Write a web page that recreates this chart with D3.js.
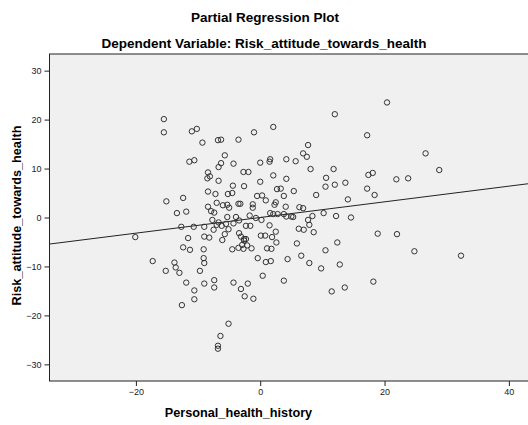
<!DOCTYPE html>
<html>
<head>
<meta charset="utf-8">
<script src="https://cdn.jsdelivr.net/npm/d3@7"></script>
<style>
  body { margin: 0; background: #fff; }
  svg text { font-family: Arial, "Liberation Sans", sans-serif; }
</style>
</head>
<body>
<div id="chart"></div>
<script>
// residuals of Personal_health_history (x) and Risk_attitude_towards_health (y)
var residX = [
  -15.5, -15.5, -11.0, -10.2, -9.3, -6.8, -6.3, -3.5, -5.7, -11.4,
  -10.6, -6.3, -6.7, -4.3, -8.4, -8.1, -8.5, -6.7, -4.4, -8.4,
  -7.2, -5.2, -4.5, -15.1, -12.4, -8.4, -7.0, -6.0, -5.3, -5.0,
  -3.5, -13.4, -11.9, -7.9, -7.4, -7.7, -5.3, -3.9, -12.7, -10.7,
  -9.0, -7.0, -6.7, -7.5, -6.2, -5.1, -4.3, -5.5, -20.1, -11.6,
  -9.0, -8.2, -5.7, -6.1, -3.4, -12.4, -11.3, -9.1, -4.5, -3.5,
  -17.3, -13.8, -13.6, -13.0, -15.2, -9.1, -9.0, -9.7, -11.9, -9.0,
  -7.4, -7.4, -4.3, -3.1, -10.6, -10.6, -12.6, -5.1, -6.4, -6.8,
  -6.8, 12.0, 2.1, -1.0, 17.2, 7.7, 6.9, 7.5, 0.0, 1.5,
  1.6, 4.2, 5.7, 8.1, 11.8, -2.7, -1.9, 2.1, 4.2, 0.0,
  10.6, 10.5, 12.0, 13.7, 17.4, 17.2, -2.6, 2.7, 3.3, 5.4,
  -0.5, 0.3, 3.8, 9.0, 14.1, 0.9, 2.5, 2.3, -3.2, -1.2,
  -1.2, 4.1, 6.3, 6.9, 1.6, 2.1, 2.8, 3.8, 4.2, 5.0,
  5.3, 7.7, 7.9, 8.4, 10.2, 12.2, 14.6, 6.2, 7.0, 8.6,
  -3.4, -1.7, -0.7, 0.2, -2.3, -1.6, 1.5, 2.5, 1.9, 0.1,
  0.8, 2.6, -3.1, -2.6, -2.6, -2.3, -2.9, -2.1, -2.7, -1.4,
  1.1, 1.8, 5.9, 12.4, 10.5, -0.4, 0.9, 1.7, 4.4, 6.6,
  7.9, 9.8, 12.8, 0.4, 3.8, -2.0, -2.5, -1.1, 11.5, 13.6,
  20.4, 26.6, 28.8, 18.1, 21.9, 23.8, 18.4, 18.9, 22.0, 24.8,
  32.3, 18.2
];
var residY = [
  20.1, 17.4, 17.6, 18.1, 15.3, 15.8, 15.9, 15.9, 12.7, 11.4,
  11.7, 11.1, 10.3, 11.0, 9.2, 8.4, 8.0, 7.5, 6.5, 5.3,
  4.8, 4.8, 5.0, 3.3, 4.0, 2.2, 3.0, 2.5, 2.6, 2.0,
  2.8, 0.9, 1.2, 1.3, 1.0, -0.5, 0.1, 0.1, -1.9, -1.9,
  -1.9, -1.5, -1.0, -2.5, -1.7, -2.4, -1.2, -1.3, -4.0, -4.2,
  -3.9, -4.1, -3.4, -4.6, -3.2, -6.1, -6.6, -6.5, -6.5, -6.2,
  -8.9, -9.2, -10.2, -11.3, -10.9, -8.3, -9.3, -10.9, -13.3, -13.5,
  -12.8, -14.3, -13.3, -14.6, -14.9, -16.7, -17.9, -21.7, -24.2, -26.2,
  -26.8, 21.1, 18.5, 17.4, 16.8, 14.8, 13.1, 12.4, 11.2, 11.4,
  11.9, 11.9, 11.5, 9.9, 9.9, 9.3, 9.3, 8.6, 7.9, 7.3,
  8.1, 6.3, 6.7, 7.1, 8.7, 5.9, 6.4, 5.8, 5.9, 5.4,
  4.4, 4.5, 4.4, 4.6, 3.7, 3.5, 3.1, 2.6, 2.8, 2.7,
  2.0, 2.2, 2.1, 1.9, 0.9, 0.7, 0.7, 0.7, 0.2, 0.2,
  0.1, -0.5, -1.5, 0.3, 0.9, 0.3, 0.0, -2.3, -2.5, -3.0,
  -0.6, 0.4, -0.1, -0.5, -1.7, -1.7, -1.6, -2.9, -4.0, -3.7,
  -3.7, -5.1, -3.9, -4.4, -4.7, -4.4, -5.6, -5.7, -6.4, -6.3,
  -6.3, -6.4, -5.3, -5.1, -6.7, -8.3, -9.1, -8.9, -8.5, -7.8,
  -9.3, -10.4, -9.6, -11.9, -12.9, -13.5, -16.1, -16.6, -15.1, -14.3,
  23.5, 13.1, 9.7, 9.1, 7.8, 8.0, 4.6, -3.3, -3.4, -6.9,
  -7.8, -13.1
];
var xTicks = [-20, 0, 20, 40];
var yTicks = [-30, -20, -10, 0, 10, 20, 30];
var fitSlope = 0.16, fitIntercept = 0;

var width = 528, height = 425;
var margin = {top: 54, right: -2, bottom: 44, left: 49.5};
var plotW = width - margin.left - margin.right,
    plotH = height - margin.top - margin.bottom;

var x = d3.scaleLinear().domain([-33.9, 43.4]).range([0, plotW]);
var y = d3.scaleLinear().domain([-33.4, 33.4]).range([plotH, 0]);

var svg = d3.select("#chart").append("svg")
  .attr("width", width)
  .attr("height", height);

svg.append("text")
  .attr("x", 265).attr("y", 22)
  .attr("text-anchor", "middle")
  .style("font-size", "13.5px").style("font-weight", "bold")
  .text("Partial Regression Plot");

svg.append("text")
  .attr("x", 264).attr("y", 48)
  .attr("text-anchor", "middle")
  .style("font-size", "13.5px").style("font-weight", "bold")
  .text("Dependent Variable: Risk_attitude_towards_health");

var g = svg.append("g")
  .attr("transform", "translate(" + margin.left + "," + margin.top + ")");

g.append("rect")
  .attr("width", plotW).attr("height", plotH)
  .attr("fill", "#f0f0f0")
  .attr("stroke", "#222").attr("stroke-width", 1);

var xAxis = d3.axisBottom(x).tickValues(xTicks).tickSize(5).tickFormat(d3.format("d"));
var yAxis = d3.axisLeft(y).tickValues(yTicks).tickSize(5).tickFormat(d3.format("d"));

g.append("g")
  .attr("transform", "translate(0," + plotH + ")")
  .call(xAxis)
  .call(function(s) { s.select(".domain").remove(); });

g.append("g")
  .call(yAxis)
  .call(function(s) { s.select(".domain").remove(); });

g.selectAll(".tick line").attr("stroke", "#222");
g.selectAll(".tick text")
  .attr("fill", "#222")
  .style("font-size", "9px")
  .style("font-family", "Arial, 'Liberation Sans', sans-serif");

g.append("clipPath").attr("id", "clip")
  .append("rect").attr("width", plotW).attr("height", plotH);

var xd = x.domain();
g.append("line")
  .attr("clip-path", "url(#clip)")
  .attr("x1", x(xd[0])).attr("y1", y(fitIntercept + fitSlope * xd[0]))
  .attr("x2", x(xd[1])).attr("y2", y(fitIntercept + fitSlope * xd[1]))
  .attr("stroke", "#222").attr("stroke-width", 1);

g.selectAll(".dot")
  .data(d3.range(residX.length))
  .enter().append("circle")
  .attr("class", "dot")
  .attr("cx", function(i) { return x(residX[i]); })
  .attr("cy", function(i) { return y(residY[i]); })
  .attr("r", 2.7)
  .attr("fill", "none")
  .attr("stroke", "#333")
  .attr("stroke-width", 1);

svg.append("text")
  .attr("x", margin.left + x(-3.5)).attr("y", 417)
  .attr("text-anchor", "middle")
  .style("font-size", "12.7px").style("font-weight", "bold")
  .text("Personal_health_history");

svg.append("text")
  .attr("transform", "translate(21," + (margin.top + plotH / 2 - 2) + ") rotate(-90)")
  .attr("text-anchor", "middle")
  .style("font-size", "12.7px").style("font-weight", "bold")
  .text("Risk_attitude_towards_health");
</script>
</body>
</html>
